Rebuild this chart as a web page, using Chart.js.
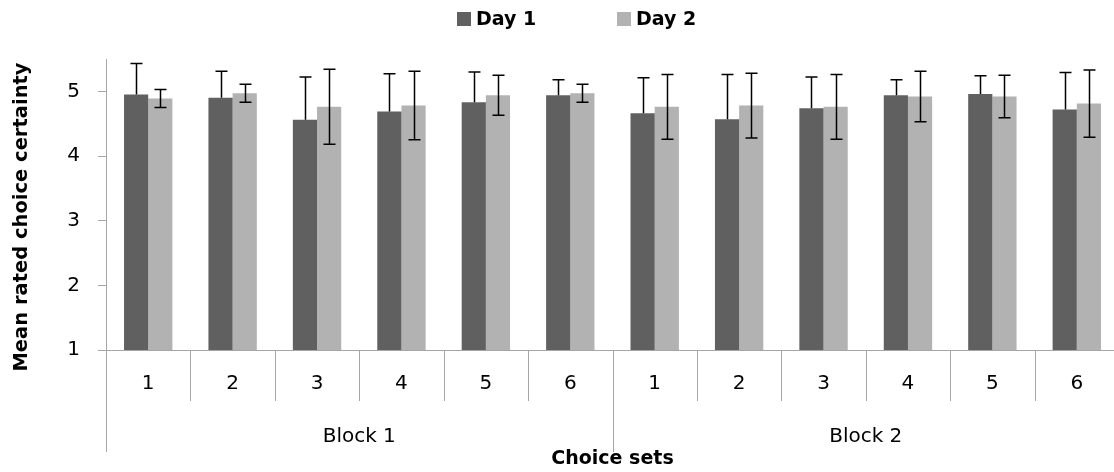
<!DOCTYPE html>
<html><head><meta charset="utf-8">
<script src="https://cdn.jsdelivr.net/npm/chart.js@4"></script>
<style>html,body{margin:0;padding:0;overflow:hidden;background:#fff}#wrap{width:1122px;height:472px}</style>
</head><body><div id="wrap"><canvas id="c" width="1122" height="472"></canvas></div>
<script>
const categories = ['1','2','3','4','5','6','1','2','3','4','5','6'];
const blocks = ['Block 1','Block 2'];
const seriesNames = ['Day 1','Day 2'];
const day1 = [4.95,4.90,4.56,4.69,4.83,4.94,4.66,4.57,4.74,4.94,4.96,4.72];
const day2 = [4.89,4.97,4.76,4.78,4.94,4.97,4.76,4.78,4.76,4.92,4.92,4.81];
const day1Err = [0.48,0.41,0.66,0.58,0.47,0.24,0.55,0.69,0.48,0.24,0.28,0.57];
const day2Err = [0.14,0.14,0.58,0.53,0.31,0.14,0.50,0.50,0.50,0.39,0.33,0.52];
const yTicks = [1,2,3,4,5];
const yTitle = 'Mean rated choice certainty';
const xTitle = 'Choice sets';

const FONT = '"DejaVu Sans", sans-serif';
const AXIS = '#a6a6a6';
const colors = ['#606060','#b2b2b2'];

const extras = {
  id: 'extras',
  afterDatasetsDraw(chart) {
    const ctx = chart.ctx;
    const y = chart.scales.y;
    const errs = [day1Err, day2Err];
    ctx.save();
    ctx.strokeStyle = '#000';
    ctx.lineWidth = 1.5;
    chart.data.datasets.forEach((ds, d) => {
      const meta = chart.getDatasetMeta(d);
      meta.data.forEach((bar, i) => {
        const v = ds.data[i], e = errs[d][i];
        const top = y.getPixelForValue(v + e);
        const bot = d === 0 ? y.getPixelForValue(v) : y.getPixelForValue(v - e);
        const x = Math.round(bar.x) + 0.5;
        ctx.beginPath();
        ctx.moveTo(x, bot); ctx.lineTo(x, top);
        ctx.moveTo(x - 6, top); ctx.lineTo(x + 6, top);
        if (d === 1) { ctx.moveTo(x - 6, bot); ctx.lineTo(x + 6, bot); }
        ctx.stroke();
      });
    });
    ctx.restore();
  },
  afterDraw(chart) {
    const ctx = chart.ctx;
    const x = chart.scales.x;
    const area = chart.chartArea;
    const n = categories.length;
    const w = (area.right - area.left) / n;
    const base = Math.round(area.bottom);
    ctx.save();
    ctx.strokeStyle = AXIS;
    ctx.lineWidth = 1;
    for (let i = 0; i <= n; i++) {
      const px = Math.round(area.left + i * w) + 0.5;
      const len = (i % 6 === 0) ? 102 : 51;
      ctx.beginPath();
      ctx.moveTo(px, base); ctx.lineTo(px, base + len);
      ctx.stroke();
    }
    ctx.fillStyle = '#000';
    ctx.textAlign = 'center';
    ctx.textBaseline = 'middle';
    ctx.font = '20px ' + FONT;
    categories.forEach((c, i) => {
      ctx.fillText(c, x.getPixelForValue(i), 384);
    });
    blocks.forEach((b, k) => {
      const cx = area.left + (k * 6 + 3) * w;
      ctx.fillText(b, cx, 437);
    });
    ctx.font = 'bold 19px ' + FONT;
    ctx.fillText(xTitle, (area.left + area.right) / 2, 459);
    ctx.save();
    ctx.translate(22, 217);
    ctx.rotate(-Math.PI / 2);
    ctx.font = 'bold 19.5px ' + FONT;
    ctx.fillText(yTitle, 0, 0);
    ctx.restore();
    ctx.font = 'bold 19px ' + FONT;
    ctx.textAlign = 'left';
    seriesNames.forEach((s, k) => {
      const lx = 457 + k * 160;
      ctx.fillStyle = colors[k];
      ctx.fillRect(lx, 12, 14, 14);
      ctx.fillStyle = '#000';
      ctx.fillText(s, lx + 19, 20);
    });
    ctx.restore();
  }
};

new Chart(document.getElementById('c'), {
  type: 'bar',
  data: {
    labels: categories,
    datasets: [
      { label: seriesNames[0], data: day1, backgroundColor: colors[0], borderWidth: 0, categoryPercentage: 0.573, barPercentage: 1 },
      { label: seriesNames[1], data: day2, backgroundColor: colors[1], borderWidth: 0, categoryPercentage: 0.573, barPercentage: 1 }
    ]
  },
  options: {
    responsive: false,
    animation: false,
    devicePixelRatio: 1,
    layout: { padding: { top: 59, bottom: 114, left: 0, right: 3 } },
    plugins: { legend: { display: false }, tooltip: { enabled: false } },
    scales: {
      x: {
        grid: { display: false },
        ticks: { display: false },
        border: { display: true, color: AXIS, width: 1 }
      },
      y: {
        min: 1, max: 5.5,
        afterBuildTicks(scale) { scale.ticks = yTicks.map(v => ({ value: v })); },
        afterFit(scale) { scale.width = 106; },
        ticks: { font: { family: FONT, size: 20 }, color: '#000', padding: 18 },
        grid: { drawOnChartArea: false, drawTicks: true, tickLength: 8, color: AXIS },
        border: { display: true, color: AXIS, width: 1 }
      }
    }
  },
  plugins: [extras]
});
</script>
</body></html>
